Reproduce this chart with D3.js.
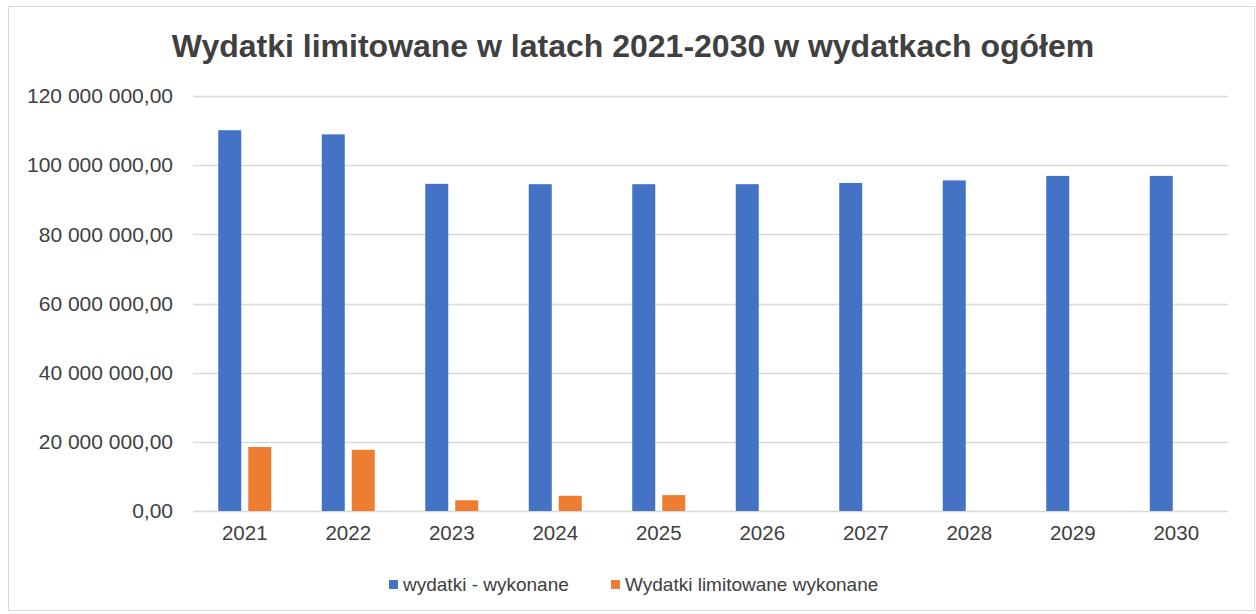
<!DOCTYPE html>
<html>
<head>
<meta charset="utf-8">
<script src="https://cdnjs.cloudflare.com/ajax/libs/d3/7.8.5/d3.min.js"></script>
<style>
  body { margin: 0; background: #fff; }
  text { font-family: "Liberation Sans", Arial, sans-serif; fill: #404040; }
</style>
</head>
<body>
<div id="chart"></div>
<script>
var years = ["2021", "2022", "2023", "2024", "2025", "2026", "2027", "2028", "2029", "2030"];
var seriesNames = ["wydatki - wykonane", "Wydatki limitowane wykonane"];
var wydatki = [110100000, 108900000, 94600000, 94500000, 94500000, 94500000, 94850000, 95600000, 96900000, 96900000];
var limitowane = [18500000, 17700000, 3100000, 4400000, 4600000, 0, 0, 0, 0, 0];
var yTicks = [0, 20000000, 40000000, 60000000, 80000000, 100000000, 120000000];
var colors = ["#4472c4", "#ed7d31"];

var svgWidth = 1256;
var svgHeight = 614;

var svg = d3.select("#chart")
  .append("svg")
  .attr("width", svgWidth)
  .attr("height", svgHeight);

// chart area border
svg.append("rect")
  .attr("x", 8.5).attr("y", 6.5)
  .attr("width", 1246).attr("height", 604)
  .attr("fill", "#fff")
  .attr("stroke", "#d9d9d9");

var plot = { left: 193, right: 1228, top: 96, bottom: 511 };

var x = d3.scaleBand()
  .domain(years)
  .range([plot.left, plot.right]);

var x1 = d3.scaleBand()
  .domain([0, 1])
  .range([-26.5, 26.5])
  .paddingInner(0.233);

var y = d3.scaleLinear()
  .domain([0, 120000000])
  .range([plot.bottom, plot.top]);

// Polish number format: "120 000 000,00"
var fmt = function(v) {
  return d3.format(",.2f")(v).replace(/,/g, " ").replace(".", ",");
};

// gridlines
svg.append("g")
  .selectAll("line")
  .data(yTicks)
  .enter()
  .append("line")
  .attr("x1", plot.left)
  .attr("x2", plot.right)
  .attr("y1", d => Math.round(y(d)) + 0.5)
  .attr("y2", d => Math.round(y(d)) + 0.5)
  .attr("stroke", "#d9d9d9")
  .attr("stroke-width", 1.5);

// y axis labels
var leftAxis = d3.axisLeft(y).tickValues(yTicks).tickFormat(fmt).tickSize(0).tickPadding(20);
var yAxis = svg.append("g")
  .attr("transform", `translate(${plot.left}, 0)`)
  .call(leftAxis);
yAxis.select(".domain").remove();
yAxis.selectAll("text")
  .attr("font-size", "21px")
  .attr("fill", "#404040")
  .style("font-family", "'Liberation Sans', Arial, sans-serif");

// x axis labels
var bottomAxis = d3.axisBottom(x).tickSize(0).tickPadding(14);
var xAxis = svg.append("g")
  .attr("transform", `translate(0, ${plot.bottom})`)
  .call(bottomAxis);
xAxis.select(".domain").remove();
xAxis.selectAll("text")
  .attr("font-size", "20.5px")
  .attr("fill", "#404040")
  .style("font-family", "'Liberation Sans', Arial, sans-serif");

// bars
var seriesData = [wydatki, limitowane];
seriesData.forEach(function(vals, s) {
  svg.append("g")
    .selectAll("rect")
    .data(vals)
    .enter()
    .append("rect")
    .attr("x", (d, i) => x(years[i]) + x.bandwidth() / 2 + x1(s))
    .attr("y", d => y(d))
    .attr("width", x1.bandwidth())
    .attr("height", d => y(0) - y(d))
    .attr("fill", colors[s]);
});

// title
svg.append("text")
  .attr("x", 633)
  .attr("y", 57)
  .attr("text-anchor", "middle")
  .attr("font-size", "32px")
  .attr("font-weight", "bold")
  .text("Wydatki limitowane w latach 2021-2030 w wydatkach ogółem");

// legend
var legendX = [389, 611];
var legend = svg.append("g");
seriesNames.forEach(function(name, s) {
  legend.append("rect")
    .attr("x", legendX[s]).attr("y", 580)
    .attr("width", 9).attr("height", 9)
    .attr("fill", colors[s]);
  legend.append("text")
    .attr("x", legendX[s] + 14)
    .attr("y", 591)
    .attr("font-size", "19px")
    .text(name);
});
</script>
</body>
</html>
